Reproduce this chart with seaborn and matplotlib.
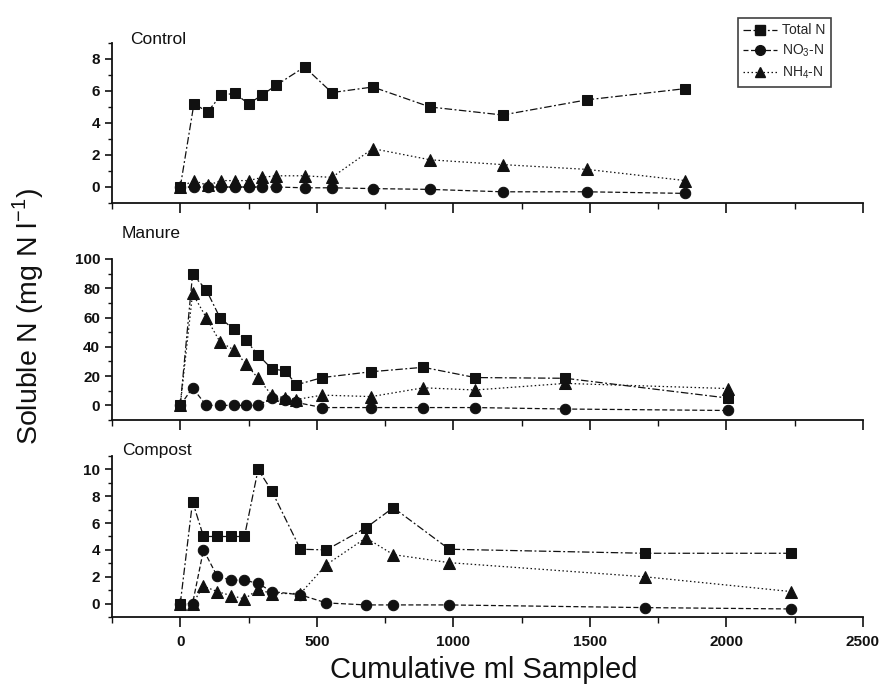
import matplotlib
matplotlib.use("Agg")
import matplotlib.pyplot as plt
from matplotlib.ticker import MultipleLocator
from matplotlib.lines import Line2D
import seaborn as sns
import pandas as pd

# ---------------- data ----------------
panel_names = ["Control", "Manure", "Compost"]
series_names = ["Total N", "NO3-N", "NH4-N"]
legend_labels = ["Total N", "NO$_3$-N", "NH$_4$-N"]

control_x = [0, 50, 100, 150, 200, 250, 300, 350, 455, 555, 705, 915, 1180, 1490, 1850]
control_total = [0, 5.2, 4.7, 5.75, 5.85, 5.2, 5.75, 6.35, 7.5, 5.9, 6.25, 5.0, 4.5, 5.45, 6.15]
control_no3 = [0, 0, 0, 0, 0, 0, 0, 0, -0.05, -0.05, -0.1, -0.15, -0.3, -0.3, -0.4]
control_nh4 = [0, 0.4, 0.1, 0.4, 0.4, 0.4, 0.6, 0.7, 0.7, 0.6, 2.4, 1.7, 1.4, 1.1, 0.4]

manure_x = [0, 45, 95, 145, 195, 240, 285, 335, 385, 425, 520, 700, 890, 1080, 1410, 2005]
manure_total = [0, 89.5, 79, 60, 52, 44.5, 34.5, 25, 23.5, 14, 19, 23, 26, 19, 18.5, 5]
manure_no3 = [0, 12, 0, 0, 0, 0, 0, 5, 4, 2, -1.5, -1.5, -1.5, -1.5, -2.5, -3.5]
manure_nh4 = [0, 76.5, 60, 43.5, 38, 28.5, 18.5, 7, 5, 4, 7, 6, 12, 10.5, 15, 11.5]

compost_x = [0, 45, 85, 135, 185, 235, 285, 335, 440, 535, 680, 780, 985, 1700, 2235]
compost_total = [0, 7.6, 5.0, 5.0, 5.0, 5.0, 10.0, 8.4, 4.05, 4.0, 5.65, 7.15, 4.05, 3.75, 3.75]
compost_no3 = [0, 0, 4.0, 2.05, 1.75, 1.75, 1.5, 0.9, 0.65, 0.05, -0.1, -0.1, -0.1, -0.3, -0.4]
compost_nh4 = [0, 0, 1.3, 0.9, 0.6, 0.35, 1.05, 0.75, 0.75, 2.9, 4.9, 3.65, 3.05, 2.0, 0.9]

y_ticks_major = [2, 20, 2]
y_limits = [(-1, 9), (-10, 100), (-1, 11)]

# ---------------- style ----------------
sns.set_style("ticks")
plt.rcParams["font.family"] = ["Liberation Sans", "DejaVu Sans"]
plt.rcParams["mathtext.fontset"] = "custom"
plt.rcParams["mathtext.rm"] = "Liberation Sans"

markers = {"Total N": "s", "NO3-N": "o", "NH4-N": "^"}
dashes = {"Total N": (0, (6, 2, 1.5, 2)), "NO3-N": (0, (4, 2)), "NH4-N": (0, (1.2, 2))}

panel_data = {
    "Control": (control_x, control_total, control_no3, control_nh4),
    "Manure": (manure_x, manure_total, manure_no3, manure_nh4),
    "Compost": (compost_x, compost_total, compost_no3, compost_nh4),
}

W, H = 883, 687
fig = plt.figure(figsize=(W / 100, H / 100), dpi=100)

# axes rectangles in pixels (left, top, right, bottom)
rects = [(112, 43, 863, 203), (112, 259, 863, 420), (112, 456, 863, 617)]
title_pos = [(130, 40), (122, 234), (122, 451)]

axes = []
for i, name in enumerate(panel_names):
    l, t, r, b = rects[i]
    ax = fig.add_axes([l / W, 1 - b / H, (r - l) / W, (b - t) / H])
    axes.append(ax)
    xs, tot, no3, nh4 = panel_data[name]
    df = pd.DataFrame({"x": xs, "Total N": tot, "NO3-N": no3, "NH4-N": nh4})
    for s in series_names:
        sns.lineplot(data=df, x="x", y=s, ax=ax, color="#111111",
                     marker=markers[s], markersize=7.5 if s != "NH4-N" else 8,
                     markeredgecolor="#111111", linewidth=0.9,
                     linestyle=dashes[s], sort=False, estimator=None)
    ax.set_xlim(-250, 2500)
    ax.set_ylim(*y_limits[i])
    ax.xaxis.set_major_locator(MultipleLocator(500))
    ax.xaxis.set_minor_locator(MultipleLocator(250))
    ax.yaxis.set_major_locator(MultipleLocator(y_ticks_major[i]))
    ax.yaxis.set_minor_locator(MultipleLocator(y_ticks_major[i] / 2))
    ax.set_yticks([v for v in ax.get_yticks() if y_limits[i][0] < v <= y_limits[i][1]])
    ax.set_xlabel("")
    ax.set_ylabel("")
    sns.despine(ax=ax)
    for sp in ["left", "bottom"]:
        ax.spines[sp].set_linewidth(1.3)
        ax.spines[sp].set_color("#111111")
    ax.tick_params(axis="both", which="major", direction="out", length=5, width=1.2,
                   labelsize=11, colors="#111111")
    ax.tick_params(axis="both", which="minor", direction="out", length=3, width=1.0,
                   colors="#111111")
    ax.tick_params(axis="x", which="major", length=7, pad=6)
    ax.tick_params(axis="x", which="minor", length=4)
    for lab in ax.get_yticklabels():
        lab.set_fontweight("bold")
    if i < 2:
        ax.set_xticklabels([])
    else:
        for lab in ax.get_xticklabels():
            lab.set_fontweight("bold")
    tx, ty = title_pos[i]
    fig.text(tx / W, 1 - ty / H, name, fontsize=12.5, ha="left", va="center",
             color="#111111")

fig.text(28 / W, 1 - 317 / H, "Soluble N (mg N l$^{-1}$)", rotation=90,
         fontsize=20.5, ha="center", va="center", color="#111111")
fig.text(484 / W, 1 - 670 / H, "Cumulative ml Sampled", fontsize=21,
         ha="center", va="center", color="#111111")

handles = [Line2D([0], [0], color="#111111", marker=markers[s], linestyle=dashes[s],
                  linewidth=0.9, markersize=7) for s in series_names]
leg = fig.legend(handles, legend_labels, loc="upper right",
                 bbox_to_anchor=(838 / W, 1 - 11 / H), fontsize=10,
                 frameon=True, fancybox=False, edgecolor="#111111",
                 handlelength=2.4, borderpad=0.4, labelspacing=0.4,
                 handletextpad=0.4)
leg.get_frame().set_linewidth(1.2)

fig.savefig("out.png", dpi=100)
